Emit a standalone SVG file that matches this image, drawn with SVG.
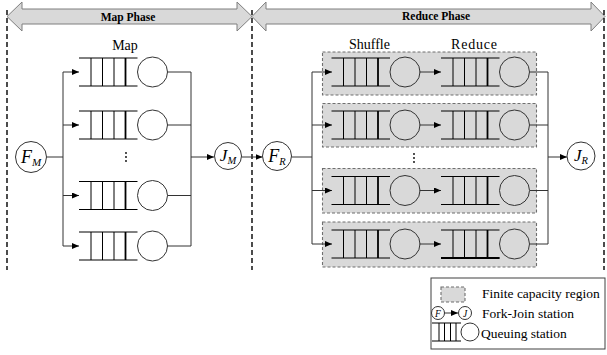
<svg xmlns="http://www.w3.org/2000/svg" xmlns:xlink="http://www.w3.org/1999/xlink" width="607" height="355" viewBox="0 0 607 355">
<style>
.t{font-family:"Liberation Serif","Times New Roman",serif;fill:#000}
.ph{font-size:11.5px;font-weight:bold}
.lb{font-size:14px}
.lg{font-size:13.5px}
.cn{fill:none;stroke:#333;stroke-width:1}
.dv{fill:none;stroke:#000;stroke-width:1.4;stroke-dasharray:5 3}
.band{fill:#d9d9d9;stroke:#7f7f7f;stroke-width:1}
.reg{fill:#d9d9d9;stroke:#6f6f6f;stroke-width:1.1;stroke-dasharray:3 2}
.nd{fill:#fff;stroke:#333;stroke-width:1}
.srv{fill:none;stroke:#333;stroke-width:1}
.ql{stroke:#000;stroke-width:1;fill:none}
.fj{font-family:"Liberation Serif","Times New Roman",serif;font-style:italic}
</style>
<defs>
<marker id="ah" markerUnits="userSpaceOnUse" markerWidth="8" markerHeight="7" refX="7" refY="3" orient="auto">
<path d="M0,0 L7,3 L0,6 z" fill="#000"/>
</marker>
<g id="st">
<path class="ql" d="M0,-14 H58.5 M0,14 H58.5 M12,-14 V14 M23.5,-14 V14 M35,-14 V14"/>
<path d="M46.5,-14 V14" stroke="#000" stroke-width="1.8"/>
<circle cx="73.5" cy="0" r="15" class="srv"/>
</g>
</defs>

<g id="phase-bands">
<polygon class="band" points="7,16.5 22,2 22,9 237,9 237,2 252,16.5 237,31 237,24 22,24 22,31"/>
<text class="t ph" x="128" y="20.5" text-anchor="middle">Map Phase</text>
<polygon class="band" points="252,16.5 266,2 266,9 591,9 591,2 605,16.5 591,31 591,24 266,24 266,31"/>
<text class="t ph" x="436" y="20" text-anchor="middle">Reduce Phase</text>
</g>

<g id="phase-dividers">
<line class="dv" x1="7" y1="10" x2="7" y2="270"/>
<line class="dv" x1="252" y1="10" x2="252" y2="270"/>
<line class="dv" x1="604" y1="10" x2="604" y2="270"/>
</g>

<g id="regions">
<rect class="reg" x="322.5" y="52" width="214" height="43"/>
<rect class="reg" x="322.5" y="103.5" width="214" height="43.5"/>
<rect class="reg" x="322.5" y="168.5" width="214" height="44.5"/>
<rect class="reg" x="322.5" y="222" width="214" height="45"/>
</g>

<g id="labels">
<text class="t lb" x="125" y="50" text-anchor="middle">Map</text>
<text class="t lb" x="369.5" y="49" text-anchor="middle">Shuffle</text>
<text class="t lb" x="474" y="49" text-anchor="middle" textLength="46" lengthAdjust="spacing">Reduce</text>
</g>

<g id="connectors">
<path class="cn" d="M47,157 H63 M63,72 V246"/>
<line class="cn" x1="63" y1="72" x2="79" y2="72" marker-end="url(#ah)"/>
<line class="cn" x1="63" y1="125" x2="79" y2="125" marker-end="url(#ah)"/>
<line class="cn" x1="63" y1="195.5" x2="79" y2="195.5" marker-end="url(#ah)"/>
<line class="cn" x1="63" y1="246" x2="79" y2="246" marker-end="url(#ah)"/>
<path class="cn" d="M167.5,72 H191 M167.5,125 H191 M167.5,195.5 H191 M167.5,246 H191 M191,72 V246"/>
<line class="cn" x1="191" y1="157" x2="214" y2="157" marker-end="url(#ah)"/>
<line class="cn" x1="241.5" y1="157" x2="262.5" y2="157" marker-end="url(#ah)"/>
<path class="cn" d="M291.5,157 H312 M312,72 V244"/>
<line class="cn" x1="312" y1="72" x2="332" y2="72" marker-end="url(#ah)"/>
<line class="cn" x1="312" y1="125" x2="332" y2="125" marker-end="url(#ah)"/>
<line class="cn" x1="312" y1="190.5" x2="332" y2="190.5" marker-end="url(#ah)"/>
<line class="cn" x1="312" y1="244" x2="332" y2="244" marker-end="url(#ah)"/>
<line class="cn" x1="419.5" y1="72" x2="441" y2="72" marker-end="url(#ah)"/>
<line class="cn" x1="419.5" y1="125" x2="441" y2="125" marker-end="url(#ah)"/>
<line class="cn" x1="419.5" y1="190.5" x2="441" y2="190.5" marker-end="url(#ah)"/>
<line class="cn" x1="419.5" y1="244" x2="441" y2="244" marker-end="url(#ah)"/>
<path class="cn" d="M530,72 H548 M530,125 H548 M530,190.5 H548 M530,244 H548 M548,72 V244"/>
<line class="cn" x1="548" y1="157" x2="567" y2="157" marker-end="url(#ah)"/>
</g>

<g id="FM">
<circle class="nd" cx="31" cy="157" r="15.5"/>
<text class="fj" x="31" y="163" text-anchor="middle" font-size="18">F<tspan font-size="11" dy="3">M</tspan></text>
</g>
<g id="map-st1"><use xlink:href="#st" x="79" y="72"/></g>
<g id="map-st2"><use xlink:href="#st" x="79" y="125"/></g>
<g id="map-dots"><circle cx="126" cy="153" r="0.9"/><circle cx="126" cy="157" r="0.9"/><circle cx="126" cy="161" r="0.9"/></g>
<g id="map-st3"><use xlink:href="#st" x="79" y="195.5"/></g>
<g id="map-st4"><use xlink:href="#st" x="79" y="246"/></g>
<g id="JM">
<circle class="nd" cx="228" cy="156" r="13.5"/>
<text class="fj" x="228" y="161" text-anchor="middle" font-size="17">J<tspan font-size="10.5" dy="3">M</tspan></text>
</g>
<g id="FR">
<circle class="nd" cx="277" cy="156" r="14.5"/>
<text class="fj" x="277" y="161.5" text-anchor="middle" font-size="18">F<tspan font-size="10.5" dy="3">R</tspan></text>
</g>
<g id="shuffle-st1"><use xlink:href="#st" x="331.5" y="72"/></g>
<g id="shuffle-st2"><use xlink:href="#st" x="331.5" y="125"/></g>
<g id="shuffle-st3"><use xlink:href="#st" x="331.5" y="190.5"/></g>
<g id="shuffle-st4"><use xlink:href="#st" x="331.5" y="244"/></g>
<g id="reduce-st1"><use xlink:href="#st" x="441" y="72"/></g>
<g id="reduce-st2"><use xlink:href="#st" x="441" y="125"/></g>
<g id="reduce-st3"><use xlink:href="#st" x="441" y="190.5"/></g>
<g id="reduce-st4"><use xlink:href="#st" x="441" y="244"/><line x1="441" y1="258" x2="499.5" y2="258" stroke="#000" stroke-width="2"/></g>
<g id="reduce-dots"><circle cx="414" cy="154" r="0.9"/><circle cx="414" cy="158" r="0.9"/><circle cx="414" cy="162" r="0.9"/></g>
<g id="JR">
<circle class="nd" cx="581" cy="156" r="14"/>
<text class="fj" x="581" y="161" text-anchor="middle" font-size="17">J<tspan font-size="10.5" dy="3">R</tspan></text>
</g>

<g id="legend">
<rect x="431" y="278" width="174" height="71" fill="#fff" stroke="#404040" stroke-width="1"/>
<rect class="reg" x="441" y="287" width="24" height="15"/>
<text class="t lg" x="482" y="298">Finite capacity region</text>
<circle class="nd" cx="438" cy="313" r="6.5"/>
<text class="fj" x="438" y="316.5" text-anchor="middle" font-size="9.5">F</text>
<line class="cn" x1="444.5" y1="313" x2="458" y2="313" marker-end="url(#ah)"/>
<circle class="nd" cx="465" cy="313" r="6.5"/>
<text class="fj" x="465" y="316.5" text-anchor="middle" font-size="9.5">J</text>
<text class="t lg" x="482" y="318">Fork-Join station</text>
<path class="ql" d="M432,323 H461 M432,341 H461 M439,323 V341 M444.5,323 V341 M450.5,323 V341 M456,323 V341"/>
<circle class="srv" cx="470" cy="332" r="9"/>
<text class="t lg" x="481" y="338">Queuing station</text>
</g>
</svg>
